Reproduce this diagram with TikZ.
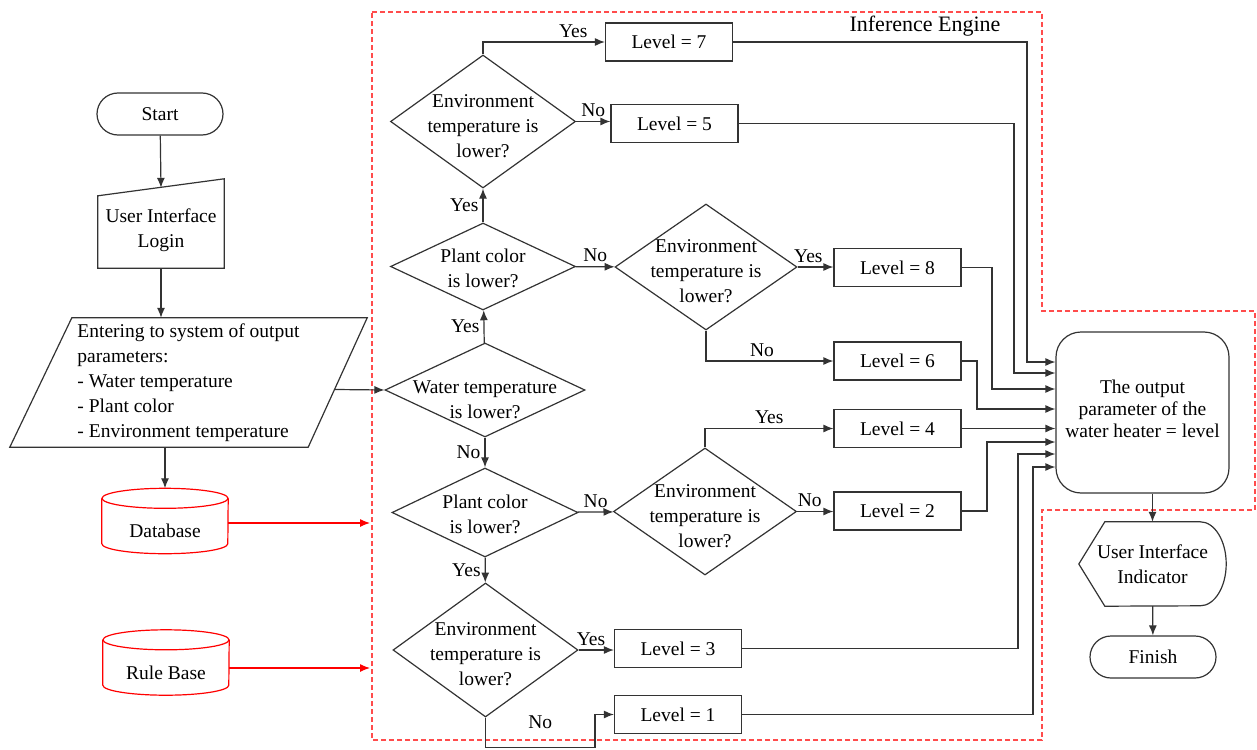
\documentclass[tikz,border=0pt]{standalone}
\usepackage{fontspec}
\setmainfont{Liberation Serif}
\usetikzlibrary{arrows.meta,calc,shapes.geometric}
\tikzset{
	wire/.style={draw=black!80, line width=1.2pt},
	arr/.style={wire, -{Latex[length=10pt,width=8pt]}},
	redarr/.style={draw=red, line width=1.2pt, -{Latex[length=10pt,width=8pt]}},
	reddrum/.style={draw=red, line width=1.2pt},
	iebox/.style={draw=red!70, line width=1.2pt, dash pattern=on 5pt off 3pt},
	term/.style={wire, rectangle, rounded corners=21pt, minimum width=126pt, minimum height=42pt},
	lvl/.style={wire, rectangle, minimum width=127pt, minimum height=38pt, inner sep=0pt},
	dec/.style={wire, diamond, inner sep=0pt},
	dtxt/.style={align=center, inner sep=0pt, yshift=-4.5pt},
	plain/.style={inner sep=0pt, align=center},
	ans/.style={inner sep=4pt},
}
\def\drum(#1){\draw[reddrum] ($(#1.north)+(0,-10)$) ellipse[x radius=63, y radius=10];
	\draw[reddrum] ($(#1.north west)+(0,-10)$) -- ($(#1.south west)+(0,-10)$) arc[start angle=180, end angle=0, x radius=63, y radius=10] -- ($(#1.north east)+(0,-10)$);}

\begin{document}
\begin{tikzpicture}[x=1pt, y=-1pt, font=\fontsize{19.5}{25}\selectfont]
		%%%%% START %%%%%
		\useasboundingbox (0,0) rectangle (1257,749);
		
		\draw[iebox] (372,12) -- (1042,12) -- (1042,311) -- (1255,311) -- (1255,510) -- (1042,510) -- (1042,740) -- (372,740) -- cycle;
		\node[plain, font=\fontsize{22}{26}\selectfont] (ietitle) at (925,26) {Inference Engine};
		
		\node[term] (start) at (160,114) {Start};
		\node[plain, minimum width=126pt, minimum height=76pt] (uil) at (161,230) {User Interface\\Login};
		\draw[wire] (uil.south west) -- (uil.south east) -- ($(uil.north east)+(0,-13)$) -- ($(uil.north west)+(0,4)$) -- cycle;
		
		\node[plain, minimum width=357pt, minimum height=129pt, align=left] (inp) at (188.5,382.5) {Entering to system of output\\parameters:\\- Water temperature\\- Plant color\\- Environment temperature};
		\draw[wire] ($(inp.north west)+(62,0)$) -- (inp.north east) -- ($(inp.south east)+(-59,0)$) -- (inp.south west) -- cycle;
		
		\node[plain, minimum width=126pt, minimum height=45pt] (db) at (165,531) {Database};
		\drum(db)
		\node[plain, minimum width=126pt, minimum height=45pt] (rb) at (166,672.5) {Rule Base};
		\drum(rb)
		
		\draw[arr] (start) -- ($(uil.north)+(0,-4)$);
		\draw[arr] (uil) -- (uil |- inp.north);
		\draw[arr] (inp.south -| db) -- ($(db.north)+(0,-20)$);
		
		\coordinate (dbin) at (370,523);
		\coordinate (rbin) at (370,668);
		\draw[redarr] (db.east |- dbin) -- (dbin);
		\draw[redarr] (rb.east |- rbin) -- (rbin);
		
		% decisions
		\node[dec, minimum width=185pt, minimum height=133pt, label={[dtxt]center:Environment\\temperature is\\lower?}] (envA) at (483,121.5) {};
		\node[dec, minimum width=185pt, minimum height=87pt, label={[dtxt, yshift=2.5pt]center:Plant color\\is lower?}] (plantA) at (483,266.5) {};
		\node[dec, minimum width=200pt, minimum height=94pt, label={[dtxt, yshift=-5pt]center:Water temperature\\is lower?}] (water) at (485,390) {};
		\node[dec, minimum width=186pt, minimum height=89pt, label={[dtxt, yshift=3pt]center:Plant color\\is lower?}] (plantB) at (485,512.5) {};
		\node[dec, minimum width=185pt, minimum height=134pt, label={[dtxt]center:Environment\\temperature is\\lower?}] (envE) at (485.5,650) {};
		\node[dec, minimum width=182pt, minimum height=126pt, label={[dtxt]center:Environment\\temperature is\\lower?}] (envB) at (706,267) {};
		\node[dec, minimum width=183pt, minimum height=127pt, label={[dtxt]center:Environment\\temperature is\\lower?}] (envD) at (705,511.5) {};
		
		% levels
		\node[lvl] (l7) at (669,42) {Level = 7};
		\node[lvl] (l5) at (674.5,123.5) {Level = 5};
		\node[lvl] (l8) at (897.5,267.5) {Level = 8};
		\node[lvl] (l6) at (897.5,361) {Level = 6};
		\node[lvl] (l4) at (897.5,428.5) {Level = 4};
		\node[lvl] (l2) at (897.5,511) {Level = 2};
		\node[lvl] (l3) at (678,648.5) {Level = 3};
		\node[lvl] (l1) at (678,714.5) {Level = 1};
		
		\draw[arr] ($(inp.east)+(-32,7)$) -- (water.west);
		\draw[arr] (water) -- node[ans, left] {Yes} (plantA);
		\draw[arr] (plantA) -- node[ans, left] {Yes} (envA);
		\draw[arr] (envA.north) |- node[ans, above, pos=0.87] {Yes} (l7.west);
		\draw[arr] (envA.east) -- node[ans, above] {No} (envA.east -| l5.west);
		\draw[arr] (plantA) -- node[ans, above] {No} (envB);
		\draw[arr] (envB.east) -- node[ans, above, pos=0.3] {Yes} (envB.east -| l8.west);
		\draw[arr] (envB.south) |- node[ans, above, pos=0.72] {No} (l6.west);
		\draw[arr] (water) -- node[ans, left] {No} (plantB);
		\draw[arr] (plantB) -- node[ans, above] {No} (envD);
		\draw[arr] (envD.north) |- node[ans, above, pos=0.75] {Yes} (l4.west);
		\draw[arr] (envD.east) -- node[ans, above, pos=0.35] {No} (envD.east -| l2.west);
		\draw[arr] (plantB) -- node[ans, left] {Yes} (envE);
		\draw[arr] (envE.east) -- node[ans, above, pos=0.35] {Yes} (envE.east -| l3.west);
		\draw[arr] (envE.south) -- ++(0,30) -| node[ans, above=14pt, pos=0.25] {No} ([xshift=-19pt]l1.west) -- (l1.west);
		
		% output side
		\node[wire, rectangle, rounded corners=25pt, minimum width=173pt, minimum height=161pt, label={[dtxt, yshift=8pt, font=\fontsize{19.5}{22}\selectfont]center:The output\\parameter of the\\water heater = level}] (ob) at (1142.5,412.5) {};
		\node[plain, minimum width=147pt, minimum height=84pt] (uiind) at (1152.5,564) {User Interface\\Indicator};
		\draw[wire] (uiind.west) -- ($(uiind.north west)+(26,0)$) -- ($(uiind.north east)+(-26,0)$) arc[start angle=-90, end angle=90, x radius=26, y radius=42] -- ($(uiind.south west)+(26,0)$) -- cycle;
		\node[term] (finish) at (1153,657) {Finish};
		
		\draw[arr] (l7.east) -| (1027,362) -- (ob.west |- 1027,362);
		\draw[arr] (l5.east) -| (1014,373) -- (ob.west |- 1014,373);
		\draw[arr] (l8.east) -| (992,389) -- (ob.west |- 992,389);
		\draw[arr] (l6.east) -| (977,409) -- (ob.west |- 977,409);
		\draw[arr] (l4.east) -- (ob.west |- l4.east);
		\draw[arr] (l2.east) -| (987,442) -- (ob.west |- 987,442);
		\draw[arr] (l3.east) -| (1018,454) -- (ob.west |- 1018,454);
		\draw[arr] (l1.east) -| (1033,467) -- (ob.west |- 1033,467);
		
		\draw[arr] (uiind.north |- ob.south) -- (uiind.north);
		\draw[arr] (uiind) -- (finish);
		
		%%%%% END %%%%%
\end{tikzpicture}
\end{document}
